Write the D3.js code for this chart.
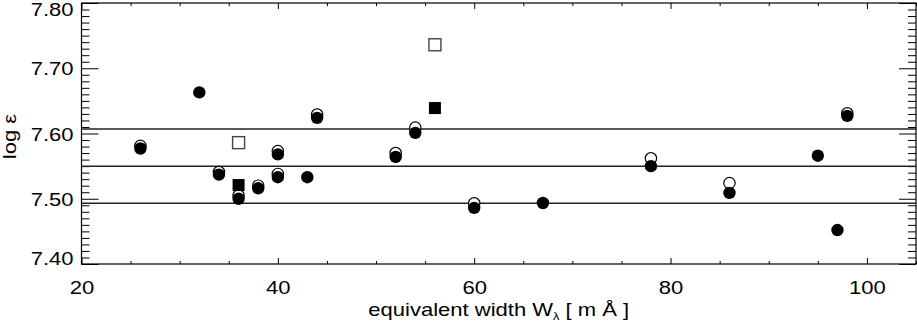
<!DOCTYPE html>
<html>
<head>
<meta charset="utf-8">
<script src="https://cdn.jsdelivr.net/npm/d3@7"></script>
<style>
  html, body { margin: 0; padding: 0; background: #fff; }
  svg { display: block; font-family: "Liberation Sans", Arial, sans-serif; }
</style>
</head>
<body>
<svg id="chart" width="917" height="322"></svg>
<script>
/* ── data ─────────────────────────────────────────── */

// filled circles
const filledW   = [26, 32, 34, 36, 38, 40, 40, 43, 44, 52, 54, 60, 67, 78, 86, 95, 97, 98];
const filledEps = [7.577, 7.663, 7.537, 7.500, 7.516, 7.568, 7.533, 7.533, 7.624, 7.564,
                   7.601, 7.486, 7.4935, 7.550, 7.509, 7.566, 7.452, 7.627];

// open circles
const openW   = [26, 34, 36, 38, 40, 40, 44, 52, 54, 60, 78, 86, 98];
const openEps = [7.581, 7.541, 7.505, 7.520, 7.573, 7.538, 7.629, 7.570, 7.609, 7.493,
                 7.562, 7.524, 7.631];

// squares
const openSqW     = [36, 56];
const openSqEps   = [7.586, 7.736];
const filledSqW   = [36, 56];
const filledSqEps = [7.521, 7.639];

// horizontal reference lines
const refLines = [7.607, 7.550, 7.493];

// axes
const xDomain = [20, 105];
const yDomain = [7.40, 7.80];
const xMajor = [20, 40, 60, 80, 100];
const yMajor = [7.40, 7.50, 7.60, 7.70, 7.80];

/* ── layout ───────────────────────────────────────── */

const L = 81.5, R = 916, T = 3, B = 264;
const FS = 19, STRETCH = 1.16;   // text is a little wider than Liberation Sans

const x = d3.scaleLinear().domain(xDomain).range([L, R]);
const y = d3.scaleLinear().domain(yDomain).range([B, T]);

const xMinor = d3.range(20, 105.01, 5).filter(v => !xMajor.includes(v));
const yMinor = d3.range(740, 781, 1).map(v => v / 100)
  .filter(v => !yMajor.some(m => Math.abs(m - v) < 1e-6));

const svg = d3.select("#chart");

/* ── axes ─────────────────────────────────────────── */

function styleAxis(g) {
  g.select(".domain").remove();
  g.selectAll("line").attr("stroke", "#000").attr("stroke-width", 1);
  g.selectAll("text").attr("fill", "#000").attr("font-size", FS)
    .attr("font-family", "Liberation Sans, Arial, sans-serif");
}

// left
svg.append("g").attr("transform", `translate(${L},0)`)
  .call(d3.axisLeft(y).tickValues(yMajor).tickSize(-17).tickPadding(8)
    .tickFormat(d3.format(".2f")))
  .call(styleAxis)
  .call(g => g.selectAll("text")
    .attr("transform", d => {
      // end labels sit inside the frame in the original
      const dy = d === 7.80 ? 6.5 : d === 7.40 ? -5.5 : 0.5;
      return `translate(-8,${dy}) scale(${STRETCH},1) translate(8,0)`;
    }));
svg.append("g").attr("transform", `translate(${L},0)`)
  .call(d3.axisLeft(y).tickValues(yMinor).tickSize(-8).tickFormat(""))
  .call(styleAxis);

// right
svg.append("g").attr("transform", `translate(${R},0)`)
  .call(d3.axisRight(y).tickValues(yMajor).tickSize(-17).tickFormat(""))
  .call(styleAxis);
svg.append("g").attr("transform", `translate(${R},0)`)
  .call(d3.axisRight(y).tickValues(yMinor).tickSize(-8).tickFormat(""))
  .call(styleAxis);

// bottom
svg.append("g").attr("transform", `translate(0,${B})`)
  .call(d3.axisBottom(x).tickValues(xMajor).tickSize(-6).tickPadding(17)
    .tickFormat(d3.format("d")))
  .call(styleAxis)
  .call(g => g.selectAll("text").attr("transform", `scale(${STRETCH},1)`));
svg.append("g").attr("transform", `translate(0,${B})`)
  .call(d3.axisBottom(x).tickValues(xMinor).tickSize(-3).tickFormat(""))
  .call(styleAxis);

// top
svg.append("g").attr("transform", `translate(0,${T})`)
  .call(d3.axisTop(x).tickValues(xMajor).tickSize(-6).tickFormat(""))
  .call(styleAxis);
svg.append("g").attr("transform", `translate(0,${T})`)
  .call(d3.axisTop(x).tickValues(xMinor).tickSize(-3).tickFormat(""))
  .call(styleAxis);

// frame
svg.append("rect")
  .attr("x", L).attr("y", T)
  .attr("width", R - L).attr("height", B - T)
  .attr("fill", "none").attr("stroke", "#000").attr("stroke-width", 1.2);

/* ── reference lines ──────────────────────────────── */

svg.selectAll("line.ref")
  .data(refLines)
  .join("line")
  .attr("class", "ref")
  .attr("x1", L).attr("x2", R)
  .attr("y1", d => y(d)).attr("y2", d => y(d))
  .attr("stroke", "#222").attr("stroke-width", 1.5);

/* ── markers ──────────────────────────────────────── */

const rad = 6.2, sq = 12;

svg.selectAll("circle.open")
  .data(d3.zip(openW, openEps))
  .join("circle")
  .attr("class", "open")
  .attr("cx", d => x(d[0])).attr("cy", d => y(d[1]))
  .attr("r", rad - 0.5)
  .attr("fill", "#fff").attr("stroke", "#000").attr("stroke-width", 1.2);

svg.selectAll("rect.opensq")
  .data(d3.zip(openSqW, openSqEps))
  .join("rect")
  .attr("class", "opensq")
  .attr("x", d => x(d[0]) - sq / 2).attr("y", d => y(d[1]) - sq / 2)
  .attr("width", sq).attr("height", sq)
  .attr("fill", "#fff").attr("stroke", "#444").attr("stroke-width", 1.4);

svg.selectAll("circle.filled")
  .data(d3.zip(filledW, filledEps))
  .join("circle")
  .attr("class", "filled")
  .attr("cx", d => x(d[0])).attr("cy", d => y(d[1]))
  .attr("r", rad)
  .attr("fill", "#000");

svg.selectAll("rect.filledsq")
  .data(d3.zip(filledSqW, filledSqEps))
  .join("rect")
  .attr("class", "filledsq")
  .attr("x", d => x(d[0]) - sq / 2).attr("y", d => y(d[1]) - sq / 2)
  .attr("width", sq).attr("height", sq)
  .attr("fill", "#000");

/* ── titles ───────────────────────────────────────── */

const cx = (L + R) / 2;
const xt = svg.append("text")
  .attr("transform", `translate(${cx},316) scale(${STRETCH},1)`)
  .attr("text-anchor", "middle")
  .attr("font-size", FS).attr("fill", "#000");
xt.append("tspan").text("equivalent width W");
xt.append("tspan").attr("font-size", 11).attr("dy", 4).text("λ");
xt.append("tspan").attr("dy", -4).text(" [ m Å ]");

svg.append("text")
  .attr("transform", `translate(15.5,136.5) rotate(-90) scale(${STRETCH},1)`)
  .attr("text-anchor", "middle")
  .attr("font-size", FS).attr("fill", "#000")
  .text("log ε");
</script>
</body>
</html>
